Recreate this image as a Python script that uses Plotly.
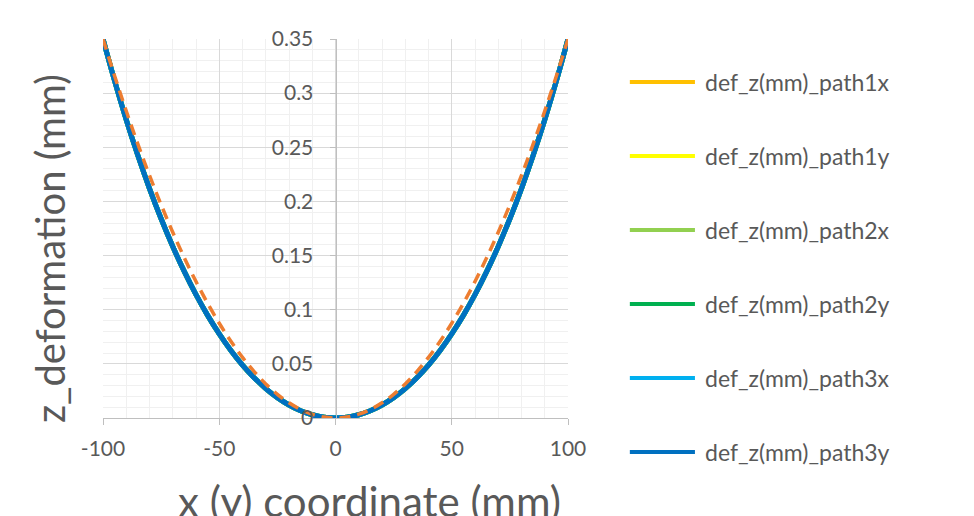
import plotly.graph_objects as go

# ---- data ----
x_mm = [-100, -95, -90, -85, -80, -75, -70, -65, -60, -55, -50, -45, -40, -35, -30, -25, -20, -15, -10, -5,
        0, 5, 10, 15, 20, 25, 30, 35, 40, 45, 50, 55, 60, 65, 70, 75, 80, 85, 90, 95, 100]

def_z_measured = [0.350, 0.3113, 0.2754, 0.2424, 0.2119, 0.1840, 0.1584, 0.1351, 0.1139, 0.0948, 0.0777,
                  0.0624, 0.0489, 0.0372, 0.0272, 0.0188, 0.0120, 0.0067, 0.0030, 0.0007,
                  0.0,
                  0.0007, 0.0030, 0.0067, 0.0120, 0.0188, 0.0272, 0.0372, 0.0489, 0.0624, 0.0777,
                  0.0948, 0.1139, 0.1351, 0.1584, 0.1840, 0.2119, 0.2424, 0.2754, 0.3113, 0.350]

def_z_reference = [0.350, 0.3159, 0.2835, 0.2529, 0.2240, 0.1969, 0.1715, 0.1479, 0.1260, 0.1059, 0.0875,
                   0.0709, 0.0560, 0.0429, 0.0315, 0.0219, 0.0140, 0.0079, 0.0035, 0.0009,
                   0.0,
                   0.0009, 0.0035, 0.0079, 0.0140, 0.0219, 0.0315, 0.0429, 0.0560, 0.0709, 0.0875,
                   0.1059, 0.1260, 0.1479, 0.1715, 0.1969, 0.2240, 0.2529, 0.2835, 0.3159, 0.350]

series_names = ["def_z(mm)_path1x", "def_z(mm)_path1y", "def_z(mm)_path2x",
                "def_z(mm)_path2y", "def_z(mm)_path3x", "def_z(mm)_path3y"]
series_values = [def_z_measured] * 6
series_colors = ["#FFC000", "#FFFF00", "#92D050", "#00B050", "#00B0F0", "#0070C0"]

x_ticks = [-100, -50, 0, 50, 100]
x_tick_labels = ["-100", "-50", "0", "50", "100"]
y_ticks = [0, 0.05, 0.1, 0.15, 0.2, 0.25, 0.3, 0.35]
y_tick_labels = ["0", "0.05", "0.1", "0.15", "0.2", "0.25", "0.3", "0.35"]

x_title = "x (y) coordinate (mm)"
y_title = "z_deformation (mm)"

FONT = "Lato"
GREY = "#595959"

fig = go.Figure()
for name, vals, col in zip(series_names, series_values, series_colors):
    fig.add_trace(go.Scatter(x=x_mm, y=vals, mode="lines", name=name,
                             line=dict(color=col, width=5, shape="spline"),
                             showlegend=False))

fig.add_trace(go.Scatter(x=x_mm, y=def_z_reference, mode="lines", name="reference",
                         line=dict(color="#ED7D31", width=3.5, dash="11px,7px", shape="spline"),
                         showlegend=False, yaxis="y2"))

# custom legend (long line samples as in the reference)
leg_top = 0.8865
leg_step = 0.1953
shapes = []
annotations = []
for i, (name, col) in enumerate(zip(series_names, series_colors)):
    yy = leg_top - i * leg_step
    shapes.append(dict(type="line", xref="paper", yref="paper", x0=1.133, x1=1.273, y0=yy, y1=yy,
                       line=dict(color=col, width=4)))
    annotations.append(dict(xref="paper", yref="paper", x=1.29, y=yy, xanchor="left", yanchor="middle",
                            text=name, showarrow=False, font=dict(family=FONT, size=23, color=GREY)))

# axis titles placed as in the reference
annotations.append(dict(xref="paper", yref="paper", x=0.574, y=-0.218, xanchor="center", yanchor="middle",
                        text=x_title, showarrow=False, font=dict(family=FONT, size=42, color=GREY)))
annotations.append(dict(xref="paper", yref="paper", x=-0.114, y=0.4485, xanchor="center", yanchor="middle",
                        text=y_title, textangle=-90, showarrow=False,
                        font=dict(family=FONT, size=40, color=GREY)))

fig.update_layout(
    width=974, height=516,
    margin=dict(l=103, r=406, t=39, b=98),
    paper_bgcolor="white", plot_bgcolor="white",
    font=dict(family=FONT, color=GREY),
    showlegend=False,
    shapes=shapes,
    annotations=annotations,
    xaxis=dict(range=[-100, 100], tickvals=x_ticks, ticktext=x_tick_labels,
               showline=True, linecolor="#BFBFBF", linewidth=1,
               ticks="outside", ticklen=6, tickcolor="#BFBFBF", ticklabelstandoff=6,
               showgrid=True, gridcolor="#D9D9D9", gridwidth=1,
               minor=dict(dtick=10, showgrid=True, gridcolor="#F0F0F0", ticks=""),
               zeroline=False, tickfont=dict(family=FONT, size=21, color=GREY),
               automargin=False),
    yaxis=dict(range=[0, 0.35], tickvals=y_ticks, showticklabels=False, showline=False,
               showgrid=True, gridcolor="#D9D9D9", gridwidth=1,
               minor=dict(dtick=0.01, showgrid=True, gridcolor="#F0F0F0", ticks=""),
               zeroline=False, automargin=False),
    yaxis2=dict(range=[0, 0.35], tickvals=y_ticks, ticktext=y_tick_labels,
                overlaying="y", anchor="free", position=0.5,
                side="left", showline=True, linecolor="#BFBFBF", linewidth=1,
                ticks="outside", ticklen=6, tickcolor="#BFBFBF", ticklabelstandoff=12,
                showgrid=False, zeroline=False,
                tickfont=dict(family=FONT, size=21, color=GREY)),
)

fig.write_html("out.html")
